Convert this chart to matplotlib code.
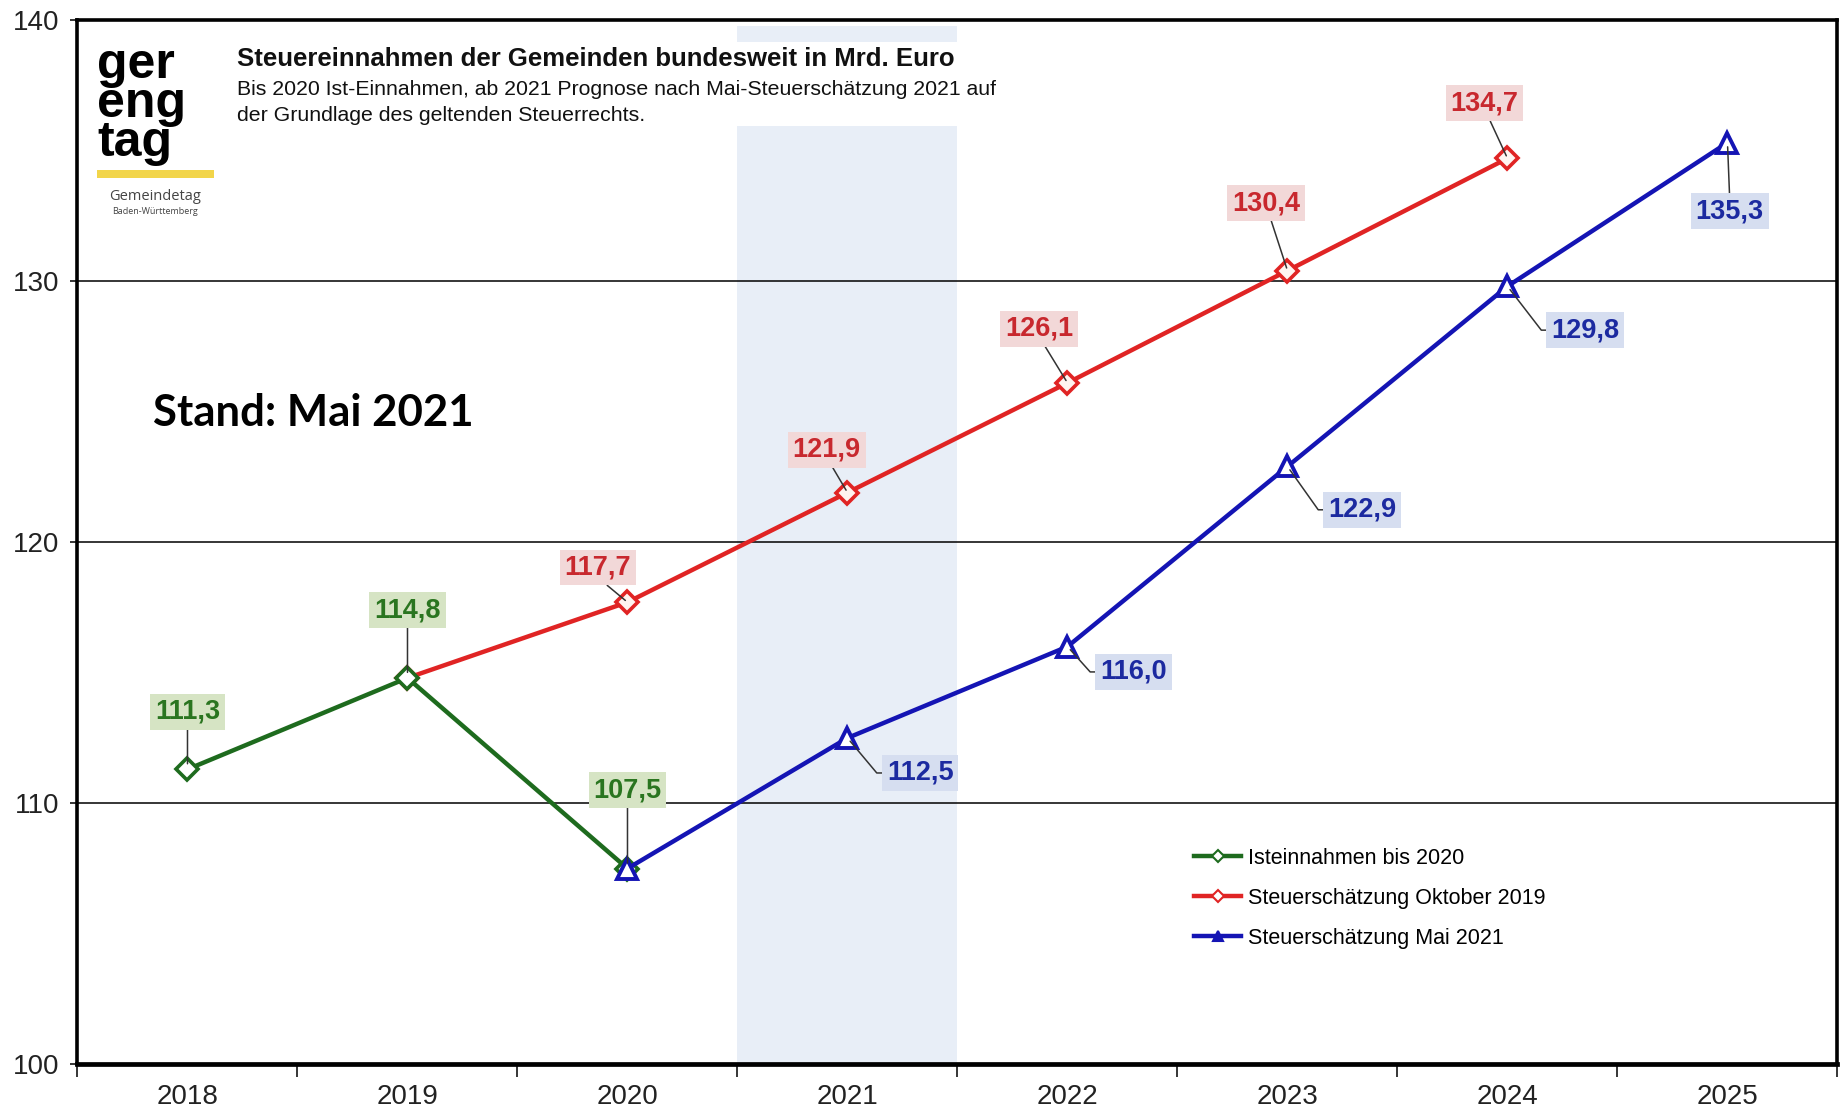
import matplotlib
matplotlib.use("Agg")
import matplotlib.pyplot as plt
from matplotlib import font_manager
from matplotlib.lines import Line2D
from matplotlib.patches import Rectangle

# ---------------- data ----------------
years = ["2018", "2019", "2020", "2021", "2022", "2023", "2024", "2025"]
ist_years = ["2018", "2019", "2020"]
ist_values = [111.3, 114.8, 107.5]
okt_years = ["2019", "2020", "2021", "2022", "2023", "2024"]
okt_values = [114.8, 117.7, 121.9, 126.1, 130.4, 134.7]
mai_years = ["2020", "2021", "2022", "2023", "2024", "2025"]
mai_values = [107.5, 112.5, 116.0, 122.9, 129.8, 135.3]
y_ticks = [100, 110, 120, 130, 140]
series_names = ["Isteinnahmen bis 2020", "Steuerschätzung Oktober 2019",
                "Steuerschätzung Mai 2021"]
title = "Steuereinnahmen der Gemeinden bundesweit in Mrd. Euro"
subtitle = ("Bis 2020 Ist-Einnahmen, ab 2021 Prognose nach Mai-Steuerschätzung 2021 auf\n"
            "der Grundlage des geltenden Steuerrechts.")
stand = "Stand: Mai 2021"
highlight_year = "2021"

# ---------------- style ----------------
names = {f.name for f in font_manager.fontManager.ttflist}
NARROW = "Liberation Sans Narrow" if "Liberation Sans Narrow" in names else "Liberation Sans"
TICKSIZE = 23 if NARROW == "Liberation Sans Narrow" else 20
SANS = "Liberation Sans"

GREEN, RED, BLUE = "#1e6b1e", "#e02424", "#1414b4"
GREEN_T, RED_T, BLUE_T = "#2a7520", "#c8282e", "#1c2aa0"
GREEN_BG, RED_BG, BLUE_BG = "#d6e4c4", "#f2d8d8", "#d6def0"
BAND = "#e8eef7"

fig = plt.figure(figsize=(18.41, 11.09), dpi=100)
fig.patch.set_facecolor("white")
ax = fig.add_axes([66 / 1568, 1 - 906 / 944, (1565 - 66) / 1568, (906 - 17) / 944])

xi = {y: i for i, y in enumerate(years)}
ax.set_xlim(-0.5, len(years) - 0.5)
ax.set_ylim(y_ticks[0], y_ticks[-1])

# highlighted forecast year band
h = xi[highlight_year]
ax.axvspan(h - 0.5, h + 0.5, ymin=0, ymax=0.994, color=BAND, zorder=0, lw=0)

# horizontal grid lines
for v in y_ticks[1:-1]:
    ax.axhline(v, color="black", lw=1.1, zorder=1)

# white box behind title text
ax.add_patch(Rectangle((0.03, 0.898), 0.52, 0.081, transform=ax.transAxes,
                       facecolor="white", edgecolor="none", zorder=0.5))

# lines
l_okt, = ax.plot([xi[y] for y in okt_years], okt_values, color=RED, lw=3.2,
                 marker="D", ms=11, mfc="#fff4f0", mec=RED, mew=2.6, zorder=3)
l_ist, = ax.plot([xi[y] for y in ist_years], ist_values, color=GREEN, lw=3.2,
                 marker="D", ms=11, mfc="white", mec=GREEN, mew=2.6, zorder=4)
l_mai, = ax.plot([xi[y] for y in mai_years], mai_values, color=BLUE, lw=3.2,
                 marker="^", ms=15, mfc="white", mec=BLUE, mew=2.8, zorder=5)

# data labels (offsets = layout only)
lab_font = dict(fontsize=19.5, fontweight="bold", family=SANS, ha="center", va="center")

ist_off = [(0, 2.2), (0, 2.6), (0, 3.0)]
for y, v, (dx, dy) in zip(ist_years, ist_values, ist_off):
    ax.annotate(f"{v:.1f}".replace(".", ","), xy=(xi[y], v), xytext=(xi[y] + dx, v + dy),
                color=GREEN_T, zorder=6,
                bbox=dict(boxstyle="square,pad=0.18", fc=GREEN_BG, ec="none"),
                arrowprops=dict(arrowstyle="-", color="#333333", lw=1.1, shrinkA=0, shrinkB=4,
                                relpos=(0.5, 0)), **lab_font)

okt_off = [None, (-0.134, 1.33), (-0.095, 1.63), (-0.13, 2.07), (-0.096, 2.58), (-0.104, 2.11)]
for y, v, off in zip(okt_years, okt_values, okt_off):
    if off is None:
        continue
    dx, dy = off
    ax.annotate(f"{v:.1f}".replace(".", ","), xy=(xi[y], v), xytext=(xi[y] + dx, v + dy),
                color=RED_T, zorder=6,
                bbox=dict(boxstyle="square,pad=0.18", fc=RED_BG, ec="none"),
                arrowprops=dict(arrowstyle="-", color="#333333", lw=1.1, shrinkA=0, shrinkB=2,
                                relpos=(0.55, 0)), **lab_font)

mai_off = [None, (0.33, -1.34), (0.30, -0.97), (0.34, -1.66), (0.354, -1.68), (0.01, -2.63)]
for y, v, off in zip(mai_years, mai_values, mai_off):
    if off is None:
        continue
    dx, dy = off
    if dx > 0.1:
        ap = dict(arrowstyle="-", color="#333333", lw=1.1, shrinkA=0, shrinkB=3,
                  relpos=(0, 0.5),
                  connectionstyle="arc,angleA=180,armA=10,angleB=0,armB=0,rad=0")
    else:
        ap = dict(arrowstyle="-", color="#333333", lw=1.1, shrinkA=0, shrinkB=3,
                  relpos=(0.5, 1))
    ax.annotate(f"{v:.1f}".replace(".", ","), xy=(xi[y], v), xytext=(xi[y] + dx, v + dy),
                color=BLUE_T, zorder=6,
                bbox=dict(boxstyle="square,pad=0.18", fc=BLUE_BG, ec="none"),
                arrowprops=ap, **lab_font)

# axes styling
for s in ax.spines.values():
    s.set_linewidth(2.6)
    s.set_color("black")
    s.set_zorder(7)
ax.spines["bottom"].set_linewidth(3.4)

ax.set_yticks(y_ticks)
ax.set_yticklabels([str(t) for t in y_ticks], fontsize=TICKSIZE, family=NARROW, color="#222222")
ax.set_xticks(range(len(years)))
ax.set_xticklabels(years, fontsize=TICKSIZE, family=NARROW, color="#222222")
ax.set_xticks([i - 0.5 for i in range(len(years) + 1)], minor=True)
ax.tick_params(axis="x", which="major", length=0, pad=14)
ax.tick_params(axis="x", which="minor", length=9, width=1.1, direction="out")
ax.tick_params(axis="y", which="major", length=5, width=1.1, direction="out", pad=8)

# legend
handles = [
    Line2D([], [], color=GREEN, lw=3.2, marker="D", ms=6, mfc="white", mec=GREEN, mew=1.5),
    Line2D([], [], color=RED, lw=3.2, marker="D", ms=6, mfc="white", mec=RED, mew=1.5),
    Line2D([], [], color=BLUE, lw=3.2, marker="^", ms=7, mfc=BLUE, mec=BLUE, mew=1.5),
]
fig.legend(handles, series_names, loc="upper left", bbox_to_anchor=(0.6486, 0.2355),
           frameon=False, borderpad=0, borderaxespad=0, handlelength=2.2,
           handletextpad=0.3, labelspacing=0.88,
           prop=dict(family=SANS, size=15.5))

# title block
fig.text(237 / 1841, 1 - 59 / 1109, title, fontsize=18.5, fontweight="bold",
         family=SANS, ha="left", va="center", color="#111111")
fig.text(237 / 1841, 1 - 80 / 1109, subtitle, fontsize=15.3, family=SANS,
         ha="left", va="top", color="#111111", linespacing=1.45)

# logo approximation
fig.text(97 / 1841, 1 - 42 / 1109, "ger\neng\ntag", fontsize=36, fontweight="bold",
         family=SANS, ha="left", va="top", color="black", linespacing=0.8)
fig.add_artist(Rectangle((97 / 1841, 1 - 178 / 1109), 117 / 1841, 8 / 1109,
                         transform=fig.transFigure, facecolor="#f2d54a", edgecolor="none"))
fig.text(155 / 1841, 1 - 196 / 1109, "Gemeindetag", fontsize=10.5, family="Open Sans",
         ha="center", va="center", color="#444444")
fig.text(155 / 1841, 1 - 211 / 1109, "Baden-Württemberg", fontsize=6.5, family="Open Sans",
         ha="center", va="center", color="#444444")

# stand
fig.text(153 / 1841, 1 - 413 / 1109, stand, fontsize=31.5, fontweight="bold",
         family="Lato", ha="left", va="center", color="black")

fig.savefig("out.png", dpi=100, facecolor="white")
